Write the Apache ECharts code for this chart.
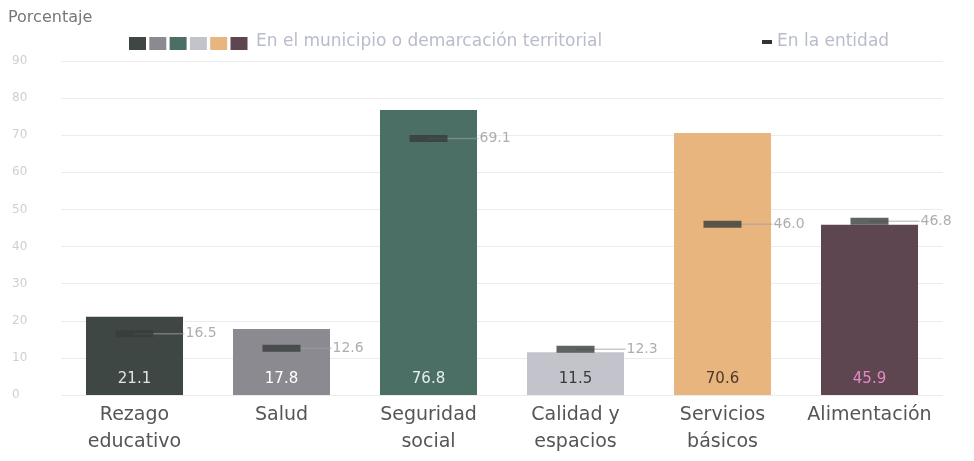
<!DOCTYPE html>
<html>
<head>
<meta charset="utf-8">
<script src="https://cdn.jsdelivr.net/npm/echarts@6/dist/echarts.min.js"></script>
<style>
  html, body { margin: 0; padding: 0; background: #fff; }
  #chart { width: 974px; height: 461px; }
</style>
</head>
<body>
<div id="chart"></div>
<script>
// categorias y valores
var categories = ['Rezago\neducativo', 'Salud', 'Seguridad\nsocial', 'Calidad y\nespacios', 'Servicios\nbásicos', 'Alimentación']
var municipio = [21.1, 17.8, 76.8, 11.5, 70.6, 45.9]
var entidad = [16.5, 12.6, 69.1, 12.3, 46.0, 46.8]
var barColors = ['#3f4745', '#8b8a90', '#4b6f64', '#c3c3cb', '#e9b57f', '#5d4650']
var labelColors = ['#dfe4e4', '#ffffff', '#e6eeea', '#3a3a3a', '#4a3a2a', '#e48ac8']

var chart = echarts.init(document.getElementById('chart'))
var font = '"DejaVu Sans", sans-serif'

// cuadritos de la leyenda
var legendSquares = barColors.map(function (c, i) {
  return {
    type: 'rect',
    shape: { x: 129 + i * 20.3, y: 37, width: 17, height: 13 },
    style: { fill: c }
  }
})

chart.setOption({
  textStyle: { fontFamily: font },
  animation: false,
  grid: { left: 61, right: 31, top: 61, bottom: 66 },
  graphic: legendSquares.concat([
    {
      type: 'text', left: 8, top: 10,
      style: { text: 'Porcentaje', fill: '#777', font: '16px ' + font }
    },
    {
      type: 'text', left: 256, top: 33,
      style: { text: 'En el municipio o demarcación territorial', fill: '#b8bccb', font: '17px ' + font }
    },
    {
      type: 'rect', shape: { x: 762, y: 40, width: 10, height: 4 },
      style: { fill: '#333' }
    },
    {
      type: 'text', left: 777, top: 33,
      style: { text: 'En la entidad', fill: '#b8bccb', font: '17px ' + font }
    }
  ]),
  xAxis: {
    type: 'category',
    data: categories,
    axisLine: { show: false },
    axisTick: { show: false },
    axisLabel: {
      color: '#555',
      fontSize: 19,
      lineHeight: 27,
      margin: 7,
      interval: 0
    }
  },
  yAxis: {
    type: 'value',
    min: 0,
    max: 90,
    interval: 10,
    axisLine: { show: false },
    axisTick: { show: false },
    axisLabel: { color: '#cfcfcf', fontSize: 12, margin: 24, align: 'left', padding: [0, 0, 0, -25] },
    splitLine: { lineStyle: { color: '#ececec', width: 1 } }
  },
  series: [
    {
      name: 'En el municipio o demarcación territorial',
      type: 'bar',
      barWidth: '66%',
      data: municipio.map(function (v, i) {
        return {
          value: v,
          itemStyle: { color: barColors[i] },
          label: { color: labelColors[i] }
        }
      }),
      label: {
        show: true,
        position: 'insideBottom',
        distance: 8,
        fontSize: 15,
        formatter: function (p) { return p.value.toFixed(1) }
      },
      z: 2
    },
    {
      // linea delgada hacia la etiqueta
      name: 'guia',
      type: 'scatter',
      data: entidad,
      symbol: 'rect',
      symbolSize: [50, 1.5],
      symbolOffset: [25, 0],
      itemStyle: { color: 'rgba(160,160,160,0.7)' },
      silent: true,
      z: 3
    },
    {
      name: 'En la entidad',
      type: 'scatter',
      data: entidad,
      symbol: 'rect',
      symbolSize: [38, 7],
      itemStyle: { color: '#373c3c' },
      label: {
        show: true,
        position: 'right',
        distance: 32,
        color: '#999',
        fontSize: 14,
        formatter: function (p) { return p.value.toFixed(1) }
      },
      z: 4
    }
  ]
})
</script>
</body>
</html>
